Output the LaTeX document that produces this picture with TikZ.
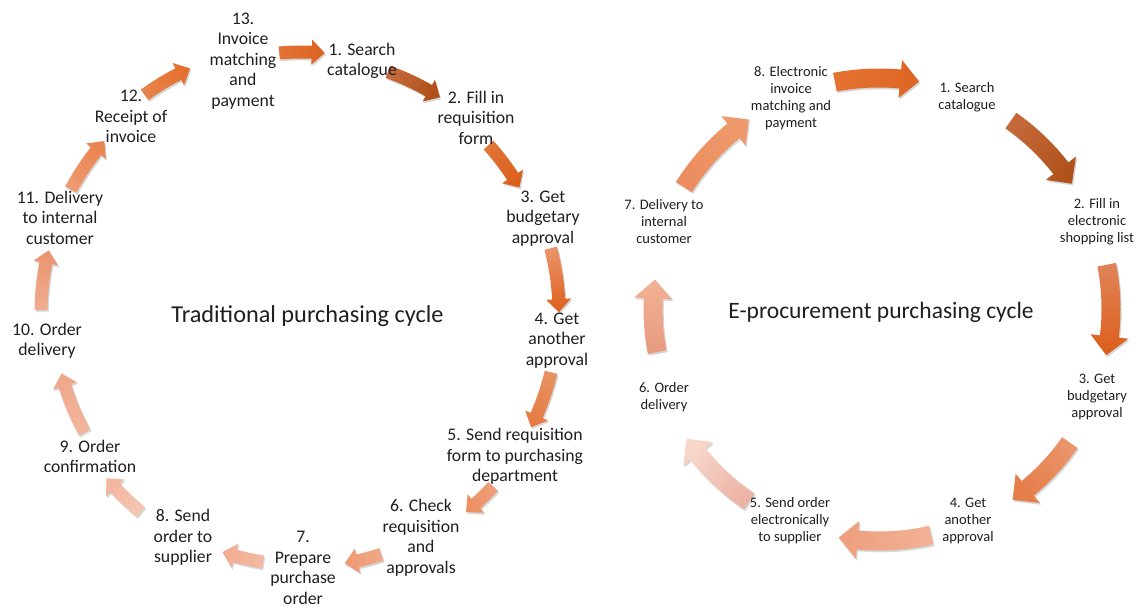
\documentclass[tikz,border=0pt]{standalone}
\usepackage{fontspec}
\setmainfont{Carlito}
\usetikzlibrary{shadows}
\tikzset{
  lbl/.style={align=center, text=black!88, font=\fontsize{17.7}{20.5}\selectfont, inner sep=0pt},
  rlbl/.style={align=center, text=black!88, font=\fontsize{14.5}{17}\selectfont, inner sep=0pt},
  ttl/.style={text=black!88, font=\fontsize{23.5}{28}\selectfont, inner sep=0pt},
  arrshadow/.style={drop shadow={shadow xshift=1.2pt, shadow yshift=-1.8pt, opacity=0.16, fill=black}}
}
% #1 tail angle, #2 tip angle, #3 radius, #4 tail colour (hex), #5 head colour (hex)
\newcommand\blockarc[5]{%
  \definecolor{arrtail}{HTML}{#4}%
  \definecolor{arrhead}{HTML}{#5}%
  \pgfmathsetmacro\hb{#2+\bL/#3*57.2958}%
  \pgfmathsetmacro\shang{(#1+#2)/2-180}%
  \pgfmathsetmacro\ro{#3+\bw}%
  \pgfmathsetmacro\ri{#3-\bw}%
  \pgfmathsetmacro\rhout{#3+\bH}%
  \pgfmathsetmacro\rhin{#3-\bH}%
  \path[arrshadow, top color=arrhead, bottom color=arrtail, shading angle=\shang]
    (#1:\ro) arc[start angle=#1, end angle=\hb, radius=\ro]
    -- (\hb:\rhout) -- (#2:#3) -- (\hb:\rhin) -- (\hb:\ri)
    arc[start angle=\hb, end angle=#1, radius=\ri] -- cycle;
}
\begin{document}
\begin{tikzpicture}[x=1pt,y=1pt]
\useasboundingbox (0,0) rectangle (1140,607);
\fill[white] (0,0) rectangle (1140,607);

% ---------------- Traditional cycle ----------------
\begin{scope}[shift={(302,294)}]
\def\bw{6.5}\def\bH{12.5}\def\bL{13}
\blockarc{95}{85}{261}{E27235}{DD6422}
\blockarc{70.4}{57.4}{256}{C46A3C}{B04E18}
\blockarc{42}{30}{251}{E27436}{DA5F1C}
\blockarc{14.6}{0.2}{257}{E99468}{E0601E}
\blockarc{-13.4}{-26.5}{256}{E99262}{E57A43}
\blockarc{-42.2}{-50.5}{258}{EE9E78}{EC9064}
\blockarc{-71.8}{-80.3}{254}{F0A886}{EE9A72}
\blockarc{-98.9}{-108.4}{252}{F2B9A2}{F1AC90}
\blockarc{-129}{-139.8}{256}{F5C5B4}{F3B7A0}
\blockarc{-151.2}{-165.9}{248}{F2B59C}{EFA88B}
\blockarc{179.3}{166.1}{261}{F0AC90}{EC9470}
\blockarc{151.9}{139}{262}{EE9A70}{EA8450}
\blockarc{125.8}{114.6}{269}{E8844A}{E46E2E}
\end{scope}

\node[lbl] (n13) at (243,546) {13.\\Invoice\\matching\\and\\payment};
\node[lbl] (n1) at (362,546) {1. Search\\catalogue};
\node[lbl] (n2) at (476,489.5) {2. Fill in\\requisition\\form};
\node[lbl] (n3) at (543,388.5) {3. Get\\budgetary\\approval};
\node[lbl] (n4) at (557,266.5) {4. Get\\another\\approval};
\node[lbl] (n5) at (515,150.5) {5. Send requisition\\form to purchasing\\department};
\node[lbl] (n6) at (421,69) {6. Check\\requisition\\and\\approvals};
\node[lbl] (n7) at (303,39) {7.\\Prepare\\purchase\\order};
\node[lbl] (n8) at (183,69.5) {8. Send\\order to\\supplier};
\node[lbl] (n9) at (90,150.5) {9. Order\\confirmation};
\node[lbl] (n10) at (47,266) {10. Order\\delivery};
\node[lbl] (n11) at (60,389.5) {11. Delivery\\to internal\\customer};
\node[lbl] (n12) at (131,490.5) {12.\\Receipt of\\invoice};
\node[ttl, font=\fontsize{24.3}{28}\selectfont] (tl) at (307.5,291) {Traditional purchasing cycle};

% ---------------- E-procurement cycle ----------------
\begin{scope}[shift={(879,298)}]
\def\bw{9.5}\def\bH{19}\def\bL{19}
\blockarc{101}{80}{231}{E47332}{DE6524}
\blockarc{55}{33}{230}{C4683A}{B0521A}
\blockarc{11}{-11.5}{232}{E0845A}{DC5E1A}
\blockarc{-35}{-55}{233}{EA956A}{E47D48}
\blockarc{-77}{-100}{232}{F2B196}{EE9E7C}
\blockarc{-124}{-146}{232}{ECB4A6}{F8D6CA}
\blockarc{191}{172.5}{226}{E79A80}{F2B294}
\blockarc{148}{124.5}{230}{EB8D5E}{EE9A6C}
\end{scope}

\node[rlbl] (r8) at (791,508.5) {8. Electronic\\invoice\\matching and\\payment};
\node[rlbl] (r1) at (967,509.5) {1. Search\\catalogue};
\node[rlbl] (r2) at (1097,385.5) {2. Fill in\\electronic\\shopping list};
\node[rlbl] (r3) at (1097,210.5) {3. Get\\budgetary\\approval};
\node[rlbl] (r4) at (968,86.5) {4. Get\\another\\approval};
\node[rlbl] (r5) at (790,86.5) {5. Send order\\electronically\\to supplier};
\node[rlbl] (r6) at (664,209.5) {6. Order\\delivery};
\node[rlbl] (r7) at (664,385.5) {7. Delivery to\\internal\\customer};
\node[ttl] (tr) at (881,295) {E-procurement purchasing cycle};
\end{tikzpicture}
\end{document}
